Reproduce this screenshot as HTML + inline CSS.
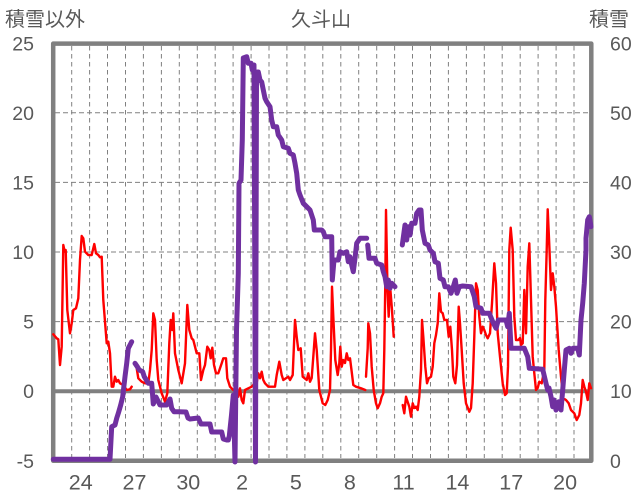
<!DOCTYPE html>
<html><head><meta charset="utf-8"><style>
html,body{margin:0;padding:0;background:#fff;}
svg{display:block;}
text{fill:#595959;}
.n{font-family:"Liberation Sans",sans-serif;}
.j{font-family:"Liberation Sans","Noto Sans CJK JP",sans-serif;}
</style></head><body>
<svg width="636" height="501" viewBox="0 0 636 501" xmlns="http://www.w3.org/2000/svg">
<rect width="636" height="501" fill="#fff"/>
<!-- horizontal grid -->
<g stroke="#808080" stroke-width="1" stroke-dasharray="5,3" fill="none">
<line x1="55" y1="112.8" x2="589" y2="112.8"/>
<line x1="55" y1="182.4" x2="589" y2="182.4"/>
<line x1="55" y1="252" x2="589" y2="252"/>
<line x1="55" y1="321.6" x2="589" y2="321.6"/>
</g>
<!-- vertical grid -->
<g stroke="#808080" stroke-width="1" stroke-dasharray="4.5,3.5" fill="none">
<line x1="71.7" y1="46" x2="71.7" y2="458"/>
<line x1="89.6" y1="46" x2="89.6" y2="458"/>
<line x1="107.5" y1="46" x2="107.5" y2="458"/>
<line x1="125.5" y1="46" x2="125.5" y2="458"/>
<line x1="143.4" y1="46" x2="143.4" y2="458"/>
<line x1="161.4" y1="46" x2="161.4" y2="458"/>
<line x1="179.3" y1="46" x2="179.3" y2="458"/>
<line x1="197.3" y1="46" x2="197.3" y2="458"/>
<line x1="215.2" y1="46" x2="215.2" y2="458"/>
<line x1="233.1" y1="46" x2="233.1" y2="458"/>
<line x1="251.1" y1="46" x2="251.1" y2="458"/>
<line x1="269" y1="46" x2="269" y2="458"/>
<line x1="286.9" y1="46" x2="286.9" y2="458"/>
<line x1="304.9" y1="46" x2="304.9" y2="458"/>
<line x1="322.8" y1="46" x2="322.8" y2="458"/>
<line x1="340.8" y1="46" x2="340.8" y2="458"/>
<line x1="358.7" y1="46" x2="358.7" y2="458"/>
<line x1="376.7" y1="46" x2="376.7" y2="458"/>
<line x1="394.6" y1="46" x2="394.6" y2="458"/>
<line x1="412.5" y1="46" x2="412.5" y2="458"/>
<line x1="430.5" y1="46" x2="430.5" y2="458"/>
<line x1="448.4" y1="46" x2="448.4" y2="458"/>
<line x1="466.4" y1="46" x2="466.4" y2="458"/>
<line x1="484.3" y1="46" x2="484.3" y2="458"/>
<line x1="502.2" y1="46" x2="502.2" y2="458"/>
<line x1="520.2" y1="46" x2="520.2" y2="458"/>
<line x1="538.1" y1="46" x2="538.1" y2="458"/>
<line x1="556.1" y1="46" x2="556.1" y2="458"/>
<line x1="574" y1="46" x2="574" y2="458"/>
</g>
<!-- frame -->
<rect x="53.2" y="43.6" width="538.1" height="417.2" fill="none" stroke="#808080" stroke-width="4.5" stroke-linejoin="round"/>
<line x1="53" y1="391.2" x2="591" y2="391.2" stroke="#808080" stroke-width="4"/>

<!-- red series -->
<g fill="none" stroke="#ff0000" stroke-width="2.4" stroke-linejoin="round" stroke-linecap="round">
<polyline points="53.3,334.3 56.7,338.3 58.3,339.3 60,365 61.7,346.7 63.3,245 64.7,251.7 65.7,250 67.3,310 70,333.3 71.7,323.3 73.3,310 76,308.3 78.3,298.3 80,260 81.7,236 83.3,238.3 85,251.7 88.3,255 91.7,255 94.3,244 96,253.3 98.3,255 100,257.3 101.7,256.7 103.3,300 106.7,343.3 108.3,341.7 110,353.3 111.7,386.7 113.3,386.7 115,376.7 116.7,381.7 118.3,380 120,383.3 123.3,385 126.7,390 130,389.3 131.7,386.7"/>
<polyline points="135,363.3 136.7,368.3 138.3,378.3 141.7,381.7 145,383.3 148.3,383.3 150,370 151.7,350 153.3,313.3 155,320 156.7,360 158.3,380 161.7,393.3 165,401.7 167.3,393.3 169.3,343.3 170.7,320 172.3,330 173.3,313.3 175,353.3 178.3,370 181.7,383.3 185,363.3 187.3,305 189.3,330 191.7,338.3 193.3,340 196.7,353.3 199.3,353.3 201,380 203.3,370 205,365 207.3,346.7 209.3,350 210.7,358.3 212.3,347.7 214,365 216,373.3 218.3,373.3 220,368.3 221.7,363.3 223.3,358.3 226,358.3 227.3,378.3 230,386.7 233.3,390 236.7,391.7 238.3,396.7 240,388.3 241.7,400 243.3,403.3 245,390 248.3,388.3 251.7,386.7 253.3,385 255,381.7 256.7,383 258.3,373.3 260,378.3 261.7,371.7 263.3,380 265,383.3 268.3,386.7 275,386.7 276.7,375 279.3,361.7 281.7,375 283.3,380 288.3,376.7 290,380 292.7,375 295,320 296.7,336.7 298.3,350 300.7,348.3 302.7,376.7 306.7,380 308.3,373.3 310,381.7 311.7,378 313.3,356.7 315,333.3 316.7,350 319.3,390 322.7,403.3 325.3,405 327.7,400 330,390 331,350 332,286.7 333.3,316.7 335.3,360 337.7,375 339.3,363.3 340.3,346.7 341.7,366.7 343.3,360 345,363 346.7,353.3 348.3,360 350,358.3 351.7,371.7 353.3,385 356,386.7 361,388.3 365.3,390"/>
<polyline points="366,376.7 367.7,348.3 368.3,323.3 370,333.3 371.7,366.7 373.7,390 376,403.3 377.7,408.3 380,403.3 381.7,396.7 383.3,393.3 384.3,350 385.3,283.3 386,210 387.5,290 388.7,316.7 390,285 392,310 393.7,336.7"/>
<polyline points="402.7,405 404.3,413.3 406,396.7 407.7,402 409.3,406.7 411,416.7 412.7,403.3 414.3,408 416,406.7 417.7,410 419.3,396.7 421,370 422,320 423.3,336.7 425.3,366.7 427,383.3 428.7,378.3 431,376.7 432.7,366.7 434.3,343.3 436,335 437.7,323.3 439.3,293.3 441,311.7 442.7,313.3 444.3,320 447,320 448.7,336.7 450.3,326.7 452,350 453.3,376.7 455.3,383.3 457,365 458.7,306.7 460,323.3 461.7,350 463.7,383.3 466,403.3 469.3,411.7 471,408 472.7,383.3 474.3,336.7 476,283.3 477.7,290 479.3,316.7 481,333.3 482.7,326.7 484.3,330 486,335 487.7,338.3 490,333.3 492,303.3 494.3,263.3 496,283.3 497.7,333.3 500,356.7 502.7,383.3 505,395 506.7,393.3 508,366.7 509.3,250 510.7,227.7 512.7,250 514.3,316.7 516,340 518.3,340 520,338 521,345 522.7,343.3 524.3,290 526,333.3 527.7,266.7 529.3,243.3 531,300 532.7,356.7 534.3,373.3 536,390 537.7,388 539.3,381.7 541.7,383.3 544.3,370 545.3,300 546.7,250 547.7,209.3 549.5,250 551,290 552.7,273.3 554.3,286.7 556,306.7 558.7,350 561,376.7 563.3,398.3 566,400 568.7,403.3 571,410 574.3,413.3 576.7,420 579.3,415 581,403.3 582.7,380 584.3,386.7 586,391.7 587.7,400 589.3,383.3 591,388.3"/>
</g>

<!-- purple series -->
<g fill="none" stroke="#7030a0" stroke-width="5" stroke-linejoin="round" stroke-linecap="round">
<polyline points="53.3,459.3 110,459.3 111.7,426.7 115,425 116.7,418.3 118.3,413.3 120.7,405 122.7,396.7 125,376.7 126.7,363.3 128.3,348.3 131.7,341.7"/>
<polyline points="135,363.3 137.3,366.7 139.3,370 142.7,371.7 144.3,376.7 148.3,383.3 151.7,383.3 153.3,404 156,397 160,405 166.7,405 170,399 171.7,408.3 174,411.7 178.3,411.7 186,412 188,418 190,419 198.3,418 201,424 210,424 211.7,432 221.7,432 223.3,439 226.7,440 228.3,440 229.3,436 231.5,415 233.3,395 235,462 236.5,330 238.3,273.3 239,183.3 241,180 242.3,140 243.3,58 246.7,56.7 248.3,63.3 251,63.3 252.3,70 254,65 255.5,462 256.5,80 257.5,72 258.3,72 260,80 261.7,82 263.3,90 265,98.3 266.7,101.7 270,106.7 271.7,120 273.3,126.7 276.7,126.7 278.3,135 281.7,140 283.3,146.7 288.3,148.3 290,153.3 293.3,155 295,163.3 296.7,173.3 298.3,190 300,195 303.3,203.3 306.7,206.7 310,210 313.3,220 314.3,230 321.7,230 323.3,231.7 325,236.7 331.7,236.7 332.3,280 334,260 338.3,260 340,251.7 343.3,253.3 346.7,251.7 348.3,261.7 350,256.7 351.7,265 353.3,271.7 355,258.3 356.7,243.3 360,238.3 366.7,238.3"/>
<polyline points="367.7,245 369,258.3 375,258.3 376.7,263.3 381.7,265 383.3,271.7 385,276.7 386.7,286.7 388.3,280 390,288.3 391.7,283.3 395,286.7"/>
<polyline points="402.3,245 405,225 406.7,240 408.3,226.7 410,235 411.7,223.3 415,223.3 416.7,213.3 419,210 421,210 422.3,230 425,243.3 428.3,245 430,250 433.3,253.3 435,261.7 438.3,263.3 440,278.3 443.3,280 445,286.7 448.3,286.7 451,293.3 453.3,286.7 455.3,280 457,293.3 459.3,286.7 462.7,286 471,286.7 474.3,296.7 476,306.7 481,308.3 482.7,313.3 489.3,313.3 492.7,321.7 496,328.3 498.3,320 506,320 507.7,326.7 509.3,313.3 511,348.3 524.3,348.3 527.7,356.7 529.3,368.3 542.7,369.3 546,383.3 547.7,390 549,388 551,396.7 552.7,406.7 554,400 556,410 558.7,401.7 561,410 562.7,390 564.3,370 566,350 569.3,348.3 571,353.3 573,348.3 577.7,348.3 579.3,355 581,320 582.7,303.3 584.3,283.3 586,250 586,238.3 587.7,220 589.3,216.7 591,226.7"/>
</g>

<!-- left axis labels -->
<g class="n" font-size="19.5" text-anchor="end">
<text x="34" y="50.5">25</text>
<text x="34" y="119.8">20</text>
<text x="34" y="189.4">15</text>
<text x="34" y="259">10</text>
<text x="34" y="328.6">5</text>
<text x="34" y="398.2">0</text>
<text x="34" y="467.8">-5</text>
</g>
<!-- right axis labels -->
<g class="n" font-size="19.5" text-anchor="start">
<text x="610" y="50.5">60</text>
<text x="610" y="119.8">50</text>
<text x="610" y="189.4">40</text>
<text x="610" y="259">30</text>
<text x="610" y="328.6">20</text>
<text x="610" y="398.2">10</text>
<text x="610" y="467.8">0</text>
</g>
<!-- bottom labels -->
<g class="n" font-size="21.5" text-anchor="middle">
<text x="80.7" y="489.3">24</text>
<text x="134.5" y="489.3">27</text>
<text x="188.3" y="489.3">30</text>
<text x="242.1" y="489.3">2</text>
<text x="295.9" y="489.3">5</text>
<text x="349.8" y="489.3">8</text>
<text x="403.6" y="489.3">11</text>
<text x="457.4" y="489.3">14</text>
<text x="511.2" y="489.3">17</text>
<text x="565.1" y="489.3">20</text>
</g>
<!-- titles -->
<g class="j" font-size="20">
<text x="5" y="26">積雪以外</text>
<text x="321" y="26" text-anchor="middle">久斗山</text>
<text x="589" y="26">積雪</text>
</g>
</svg>
</body></html>
